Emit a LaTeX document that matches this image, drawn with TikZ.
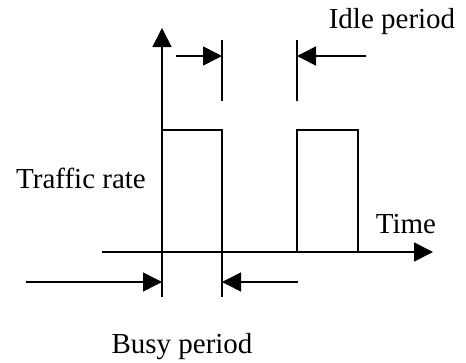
\documentclass[tikz,border=0pt]{standalone}
\usepackage{fontspec}
\setmainfont{Liberation Serif}
\usetikzlibrary{arrows.meta}
\begin{document}
\begin{tikzpicture}[x=1pt,y=-1pt,line width=1.6pt,
  tipped/.style={-{Triangle[length=19pt,width=19pt]}},
  lbl/.style={font=\fontsize{29}{33}\selectfont,anchor=base,inner sep=0pt}]
\useasboundingbox (0,0) rectangle (466,362);
% key points
\coordinate (ybot) at (162,297);
\coordinate (ytop) at (162,28);
\coordinate (xl) at (102,252);
\coordinate (xr) at (433,252);
\coordinate (p1tl) at (162,130);
\coordinate (p1tr) at (222,130);
\coordinate (p1br) at (222,297);
\coordinate (p2bl) at (297,252);
\coordinate (p2tl) at (297,130);
\coordinate (p2tr) at (358,130);
\coordinate (p2br) at (358,252);
\coordinate (m1t) at (222,40);
\coordinate (m1b) at (222,101);
\coordinate (m2t) at (297,40);
\coordinate (m2b) at (297,101);
\coordinate (a1s) at (176,56);
\coordinate (a1e) at (222,56);
\coordinate (a2s) at (366,56);
\coordinate (a2e) at (297,56);
\coordinate (b1s) at (26,282);
\coordinate (b1e) at (162,282);
\coordinate (b2s) at (298,282);
\coordinate (b2e) at (222,282);
% axes
\draw[tipped] (ybot) -- (ytop);
\draw[tipped] (xl) -- (xr);
% pulses
\draw (p1tl) -- (p1tr) -- (p1br);
\draw (p2bl) -- (p2tl) -- (p2tr) -- (p2br);
% markers
\draw (m1t) -- (m1b);
\draw (m2t) -- (m2b);
% arrows
\draw[tipped] (a1s) -- (a1e);
\draw[tipped] (a2s) -- (a2e);
\draw[tipped] (b1s) -- (b1e);
\draw[tipped] (b2s) -- (b2e);
% labels
\node[lbl] (idle) at (392,28) {Idle period};
\node[lbl] (rate) at (81,188) {Traffic rate};
\node[lbl] (time) at (406,233) {Time};
\node[lbl] (busy) at (182,353) {Busy period};
\end{tikzpicture}
\end{document}
